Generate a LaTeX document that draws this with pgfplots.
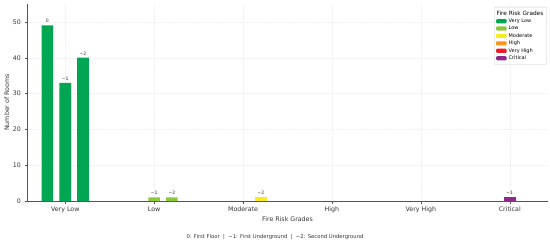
\documentclass[border=0pt]{standalone}
\usepackage{pgfplots}
\pgfplotsset{compat=1.18}
\usepackage{fontspec}
\setmainfont{DejaVu Sans}
\definecolor{cVL}{HTML}{00A651}
\definecolor{cL}{HTML}{8DC63F}
\definecolor{cM}{HTML}{F5EE1A}
\definecolor{cH}{HTML}{F7941D}
\definecolor{cVH}{HTML}{ED1C24}
\definecolor{cC}{HTML}{8E2A8C}
\definecolor{spine}{HTML}{555555}
\begin{document}
\begin{tikzpicture}
\path[use as bounding box] (-27bp,-44bp) rectangle (523bp,201bp);
\begin{axis}[
  at={(0,0)}, anchor=south west,
  scale only axis, width=521bp, height=197bp,
  xmin=-0.43, xmax=5.43, ymin=0, ymax=55,
  axis x line*=bottom, axis y line*=left,
  axis line style={spine, line width=0.5pt},
  xtick={0,1,2,3,4,5},
  xticklabels={Very Low,Low,Moderate,High,Very High,Critical},
  ytick={0,10,20,30,40,50},
  tick style={spine, line width=0.4pt},
  tick align=outside, major tick length=2.5bp,
  ticklabel style={font=\fontsize{6.3}{7}\selectfont, text=black!80},
  /pgf/number format/assume math mode=true,
  xlabel={Fire Risk Grades}, ylabel={Number of Rooms},
  label style={font=\fontsize{6.3}{7}\selectfont, text=black!80},
  xlabel style={yshift=3bp},
  ylabel style={yshift=-3bp},
  grid=major, major grid style={black!6, line width=0.4pt, dash pattern=on 2bp off 1bp},
  ybar, bar width=0.13, bar shift=0pt,
  point meta=explicit symbolic,
  nodes near coords,
  every node near coord/.append style={font=\fontsize{4.6}{5}\selectfont, text=black!80, yshift=-1bp},
  legend style={at={(0.998,0.985)}, anchor=north east, font=\fontsize{5}{6}\selectfont,
    draw=black!20, rounded corners=1pt, inner sep=1.5pt, row sep=-1.8pt, fill=white},
  legend cell align=left,
  legend image code/.code={\fill[#1] (0bp,-2bp) rectangle (10.5bp,2.2bp);},
]
\addlegendimage{empty legend}
\addlegendentry{\hspace{-12bp}\fontsize{5.8}{6}\selectfont Fire Risk Grades}
\addplot[fill=cVL, draw=none] coordinates {(-0.2,49) [0] (0,33) [−1] (0.2,40) [−2]};
\addlegendentry{Very Low}
\addplot[fill=cL, draw=none] coordinates {(1,1) [−1] (1.2,1) [−2]};
\addlegendentry{Low}
\addplot[fill=cM, draw=none] coordinates {(2.2,1) [−2]};
\addlegendentry{Moderate}
\addlegendimage{fill=cH, draw=none}
\addlegendentry{High}
\addlegendimage{fill=cVH, draw=none}
\addlegendentry{Very High}
\addplot[fill=cC, draw=none] coordinates {(5,1) [−1]};
\addlegendentry{Critical}
\end{axis}
\node[font=\fontsize{5.3}{6}\selectfont, text=black!80] at (248bp,-36bp)
  {0: First Floor \ | \ −1: First Underground \ | \ −2: Second Underground};
\end{tikzpicture}
\end{document}
